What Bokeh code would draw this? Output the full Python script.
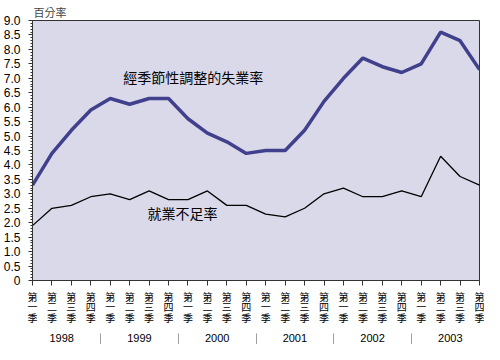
from bokeh.plotting import figure
from bokeh.models import Range1d, FixedTicker, LinearAxis, Label
from bokeh.embed import file_html
from bokeh.resources import INLINE

# ---- data ----
years = ["1998", "1999", "2000", "2001", "2002", "2003"]
quarters = ["第一季", "第二季", "第三季", "第四季"]
unemployment = [3.3, 4.4, 5.2, 5.9, 6.3, 6.1, 6.3, 6.3,
                5.6, 5.1, 4.8, 4.4, 4.5, 4.5, 5.2, 6.2,
                7.0, 7.7, 7.4, 7.2, 7.5, 8.6, 8.3, 7.3]
underemployment = [1.9, 2.5, 2.6, 2.9, 3.0, 2.8, 3.1, 2.8,
                   2.8, 3.1, 2.6, 2.6, 2.3, 2.2, 2.5, 3.0,
                   3.2, 2.9, 2.9, 3.1, 2.9, 4.3, 3.6, 3.3]
y_ticks = [0, 0.5, 1.0, 1.5, 2.0, 2.5, 3.0, 3.5, 4.0, 4.5,
           5.0, 5.5, 6.0, 6.5, 7.0, 7.5, 8.0, 8.5, 9.0]
y_tick_labels = ["0", "0.5", "1.0", "1.5", "2.0", "2.5", "3.0", "3.5", "4.0", "4.5",
                 "5.0", "5.5", "6.0", "6.5", "7.0", "7.5", "8.0", "8.5", "9.0"]
y_unit = "百分率"
label_unemp = "經季節性調整的失業率"
label_under = "就業不足率"

n = len(unemployment)
xs = list(range(n))
quarter_labels = {i: "\n".join(quarters[i % 4]) for i in xs}
nq = len(quarters)
year_centers = [k * nq + (nq - 1) / 2 for k in range(len(years))]
year_seps = [k * nq - 0.5 for k in range(1, len(years))]

CJK = "Noto Sans CJK TC"
NUM = "Liberation Sans"
AX = "#333333"

p = figure(width=484, height=344, output_backend="svg", toolbar_location=None,
           x_range=Range1d(0, n - 1), y_range=Range1d(0, 9),
           min_border_left=27, min_border_right=5, min_border_top=15, min_border_bottom=10)
p.background_fill_color = "#d9d9e9"
p.border_fill_color = "white"
p.outline_line_color = AX
p.outline_line_width = 1
p.grid.visible = False

p.title.text = y_unit
p.title.text_font = CJK
p.title.text_font_size = "11px"
p.title.text_font_style = "normal"
p.title.align = "left"
p.title.offset = 1
p.title.standoff = 2

# y axis
ya = p.yaxis[0]
ya.ticker = FixedTicker(ticks=y_ticks, minor_ticks=[i / 10 for i in range(91)])
ya.major_label_overrides = {t: l for t, l in zip(y_ticks, y_tick_labels)}
ya.major_label_text_font = NUM
ya.major_label_text_font_size = "12px"
ya.major_label_text_color = "black"
ya.major_label_standoff = 8
ya.axis_line_color = AX
ya.major_tick_line_color = AX
ya.minor_tick_line_color = AX
ya.major_tick_out = 4
ya.major_tick_in = 0
ya.minor_tick_out = 2
ya.minor_tick_in = 0

# quarter axis
xa = p.xaxis[0]
xa.ticker = FixedTicker(ticks=xs)
xa.major_label_overrides = quarter_labels
xa.major_label_text_font = CJK
xa.major_label_text_font_size = "10px"
xa.major_label_text_line_height = 0.72
xa.major_label_text_color = "black"
xa.major_label_standoff = 3
xa.axis_label_standoff = 0
xa.axis_line_color = AX
xa.major_tick_line_color = AX
xa.major_tick_out = 5
xa.major_tick_in = 0
xa.minor_tick_line_color = None

# year axis
ya2 = LinearAxis(ticker=FixedTicker(ticks=year_centers),
                 major_label_overrides={c: y for c, y in zip(year_centers, years)},
                 major_tick_out=0, major_tick_in=0, minor_tick_line_color=None,
                 major_tick_line_color=None, axis_line_color=None, axis_label_standoff=0,
                 major_label_standoff=5, major_label_text_font=NUM,
                 major_label_text_font_size="11px", major_label_text_color="black")
p.add_layout(ya2, "below")

# year separators
sep = LinearAxis(ticker=FixedTicker(ticks=year_seps),
                 major_label_overrides={s: "" for s in year_seps},
                 major_tick_out=0, major_tick_in=11, minor_tick_line_color=None,
                 major_tick_line_color="#a0a0a0", axis_line_color=None, axis_label_standoff=0,
                 major_label_standoff=0, major_label_text_font_size="0px")
p.add_layout(sep, "below")

p.line(xs, unemployment, line_color="#40408c", line_width=3.5)
p.line(xs, underemployment, line_color="black", line_width=1.3)

p.add_layout(Label(x=8.27, y=7.05, text=label_unemp, text_font=CJK, text_font_size="14px",
                   text_align="center", text_baseline="middle", text_color="black"))
p.add_layout(Label(x=7.72, y=2.32, text=label_under, text_font=CJK, text_font_size="14px",
                   text_align="center", text_baseline="middle", text_color="black"))

open("out.html", "w").write(file_html(p, INLINE))
